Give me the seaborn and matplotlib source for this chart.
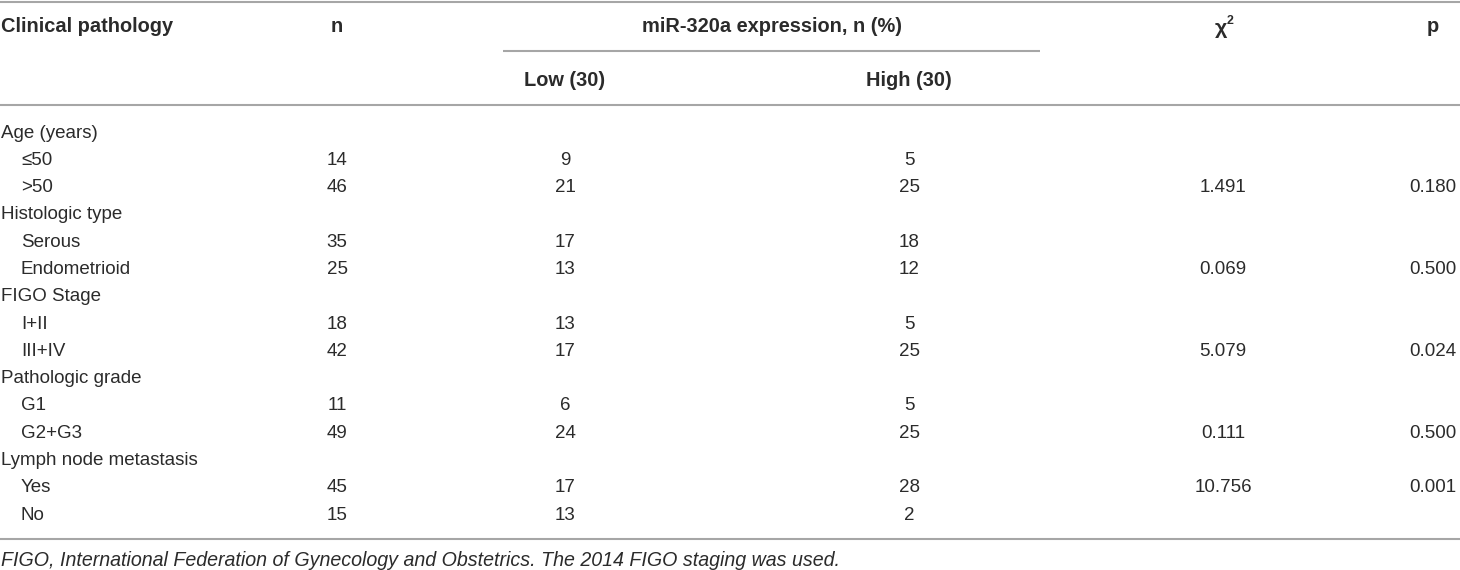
import matplotlib
matplotlib.use("Agg")
import matplotlib.pyplot as plt
import seaborn as sns

# ---- data ----
group_labels = ["Age (years)", "Histologic type", "FIGO Stage", "Pathologic grade", "Lymph node metastasis"]
sub_labels = [["≤50", ">50"], ["Serous", "Endometrioid"], ["I+II", "III+IV"], ["G1", "G2+G3"], ["Yes", "No"]]
n_values = [14, 46, 35, 25, 18, 42, 11, 49, 45, 15]
low_values = [9, 21, 17, 13, 13, 17, 6, 24, 17, 13]
high_values = [5, 25, 18, 12, 5, 25, 5, 25, 28, 2]
chi2_values = ["1.491", "0.069", "5.079", "0.111", "10.756"]
p_values = ["0.180", "0.500", "0.024", "0.500", "0.001"]
chi2_sub_index = [1, 1, 1, 1, 0]
col_headers = ["Clinical pathology", "n", "miR-320a expression, n (%)", "χ", "p"]
chi_sup = "2"
sub_headers = ["Low (30)", "High (30)"]
footnote = "FIGO, International Federation of Gynecology and Obstetrics. The 2014 FIGO staging was used."

sns.set_theme(style="white")
fams = ["Liberation Sans", "DejaVu Sans"]
plt.rcParams["font.family"] = fams

fig = plt.figure(figsize=(14.6, 5.7), dpi=100)
ax = fig.add_axes([0, 0, 1, 1])
ax.set_xlim(0, 1460)
ax.set_ylim(570, 0)
ax.axis("off")

fs = 13.5
fs_h = 14.4
txt = "#2b2b2b"
line_c = "#a6a6a6"
lw = 1.5

x_label = 1
x_indent = 21
x_n = 337
x_low = 565
x_high = 909
x_chi = 1223
x_p = 1433

# rules
ax.hlines(1.5, 0, 1460, color=line_c, lw=lw)
ax.hlines(51, 503, 1040, color=line_c, lw=lw)
ax.hlines(105, 0, 1460, color=line_c, lw=lw)
ax.hlines(538.5, 0, 1460, color=line_c, lw=lw)

# headers
hy = 27
ax.text(x_label, hy, col_headers[0], fontsize=fs_h, fontweight="bold", color=txt, ha="left", va="center")
ax.text(x_n, hy, col_headers[1], fontsize=fs_h, fontweight="bold", color=txt, ha="center", va="center")
ax.text((503 + 1040) / 2, hy, col_headers[2], fontsize=fs_h, fontweight="bold", color=txt, ha="center", va="center")
ax.text(x_chi - 2, hy + 1, col_headers[3], fontsize=fs_h + 1, fontweight="bold", color=txt, ha="center", va="center")
ax.text(x_chi + 4, hy - 6, chi_sup, fontsize=fs_h * 0.62, fontweight="bold", color=txt, ha="left", va="center")
ax.text(x_p, hy, col_headers[4], fontsize=fs_h, fontweight="bold", color=txt, ha="center", va="center")
ax.text(x_low, 80, sub_headers[0], fontsize=fs_h, fontweight="bold", color=txt, ha="center", va="center")
ax.text(x_high, 80, sub_headers[1], fontsize=fs_h, fontweight="bold", color=txt, ha="center", va="center")

# body
row0 = 133
dy = 27.3
r = 0
k = 0
for g, glabel in enumerate(group_labels):
    y = row0 + r * dy
    ax.text(x_label, y, glabel, fontsize=fs, color=txt, ha="left", va="center")
    r += 1
    for s, slabel in enumerate(sub_labels[g]):
        y = row0 + r * dy
        ax.text(x_indent, y, slabel, fontsize=fs, color=txt, ha="left", va="center")
        ax.text(x_n, y, str(n_values[k]), fontsize=fs, color=txt, ha="center", va="center")
        ax.text(x_low, y, str(low_values[k]), fontsize=fs, color=txt, ha="center", va="center")
        ax.text(x_high, y, str(high_values[k]), fontsize=fs, color=txt, ha="center", va="center")
        if s == chi2_sub_index[g]:
            ax.text(x_chi, y, chi2_values[g], fontsize=fs, color=txt, ha="center", va="center")
            ax.text(x_p, y, p_values[g], fontsize=fs, color=txt, ha="center", va="center")
        r += 1
        k += 1

ax.text(x_label, 560, footnote, fontsize=14.1, style="italic", color=txt, ha="left", va="center")

fig.savefig("out.png", dpi=100)
